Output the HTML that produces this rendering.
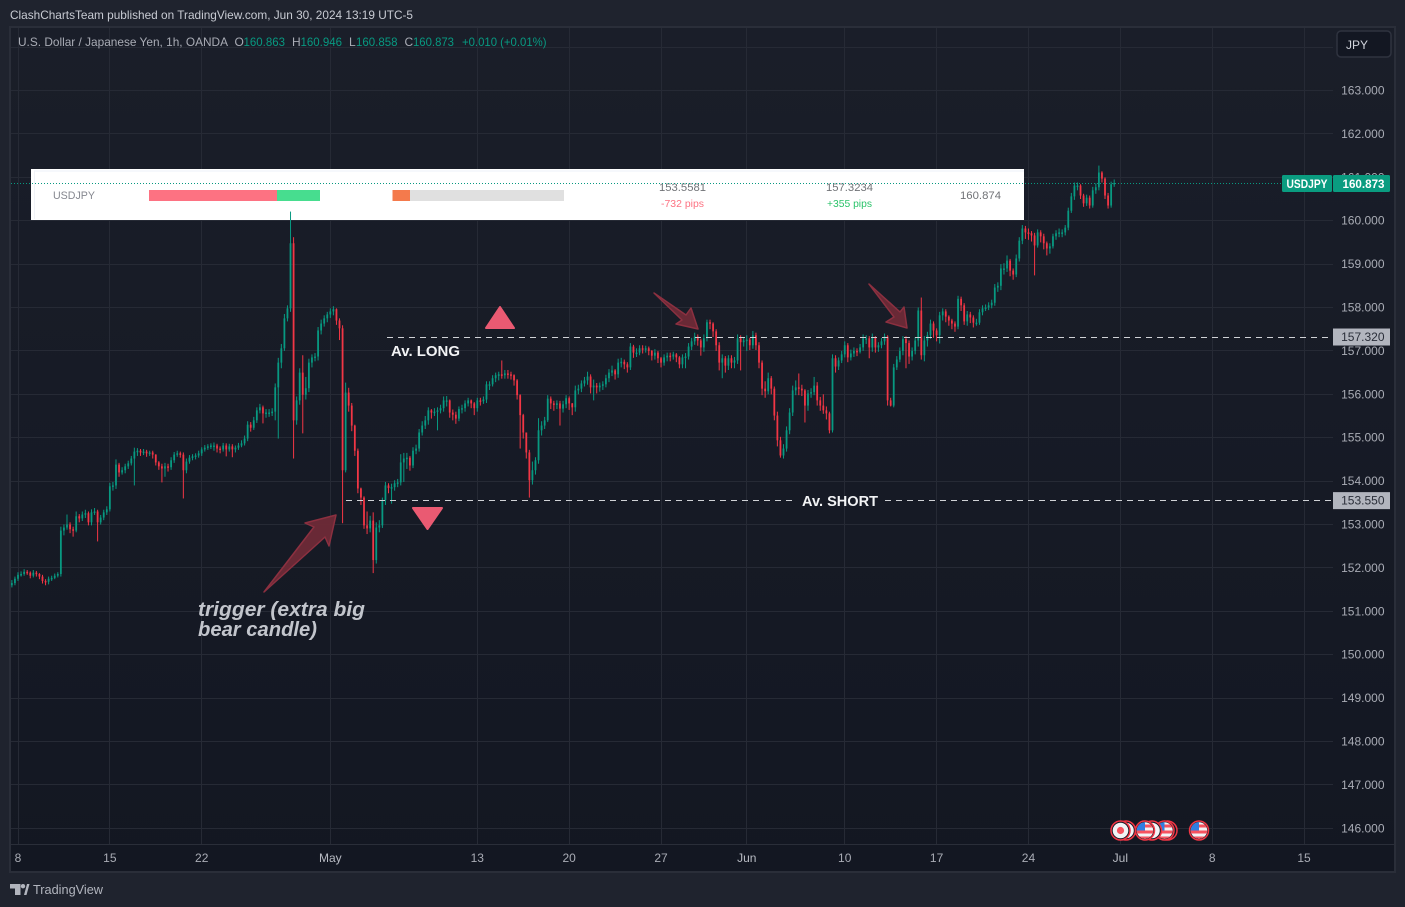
<!DOCTYPE html>
<html lang="en">
<head>
<meta charset="utf-8">
<title>USDJPY chart</title>
<style>
html,body{margin:0;padding:0;background:#1f232e;width:1405px;height:907px;overflow:hidden}
svg{display:block;font-family:"Liberation Sans",sans-serif}
</style>
</head>
<body>
<svg id="chart" xmlns="http://www.w3.org/2000/svg" width="1405" height="907" viewBox="0 0 1405 907">
  <defs>
    <linearGradient id="paneFill" x1="0" y1="0" x2="0" y2="1">
      <stop offset="0" stop-color="#1a1e29"/>
      <stop offset="1" stop-color="#131722"/>
    </linearGradient>
    <clipPath id="flagClip"><circle cx="0" cy="0" r="8.2"/></clipPath>
    <clipPath id="paneClip"><rect x="11" y="28" width="1383" height="816"/></clipPath>
  </defs>

  <rect x="0" y="0" width="1405" height="907" fill="#1f232e"/>
  <text x="10" y="19" font-size="12" fill="#c8cbd3" textLength="403" lengthAdjust="spacingAndGlyphs">ClashChartsTeam published on TradingView.com, Jun 30, 2024 13:19 UTC-5</text>

  <rect x="10" y="27" width="1385" height="845" fill="url(#paneFill)" stroke="#2a2e39" stroke-width="2"/>
  <line x1="11" y1="844.5" x2="1394" y2="844.5" stroke="#2a2e39"/>

  <g id="grid" clip-path="url(#paneClip)"></g>

  <g>
    <rect x="31" y="169" width="993" height="51" fill="#ffffff"/>
    <line x1="34" y1="171" x2="1024" y2="171" stroke="#eef2f8"/>
    <line x1="34.5" y1="171" x2="34.5" y2="219" stroke="#f0f3f8"/>
    <text x="53" y="199" font-size="11" fill="#85878f" textLength="42" lengthAdjust="spacingAndGlyphs">USDJPY</text>
    <rect x="149" y="190" width="128" height="11" fill="#fd7282"/>
    <rect x="277" y="190" width="43" height="11" fill="#47dd8f"/>
    <rect x="392.5" y="190" width="17.5" height="11" fill="#f47a4c"/>
    <rect x="410" y="190" width="154" height="11" fill="#e0e0e0"/>
    <text x="659" y="191" font-size="11" fill="#707276" textLength="47" lengthAdjust="spacingAndGlyphs">153.5581</text>
    <text x="661" y="207" font-size="10.5" fill="#fd7282" textLength="43" lengthAdjust="spacingAndGlyphs">-732 pips</text>
    <text x="826" y="191" font-size="11" fill="#707276" textLength="47" lengthAdjust="spacingAndGlyphs">157.3234</text>
    <text x="827" y="207" font-size="10.5" fill="#2bc36a" textLength="45" lengthAdjust="spacingAndGlyphs">+355 pips</text>
    <text x="960" y="199" font-size="11" fill="#707276" textLength="41" lengthAdjust="spacingAndGlyphs">160.874</text>
  </g>

  <g id="candles"></g>

  <line id="lastPriceLine" x1="11" x2="1282" stroke="#089981" stroke-width="1" stroke-dasharray="1 2"/>

  <line id="avgLongLine" x1="387" x2="1333" stroke="#d0d2d6" stroke-width="1" stroke-dasharray="6 5"/>
  <line id="avgShortLineA" x1="346" x2="795" stroke="#d0d2d6" stroke-width="1" stroke-dasharray="6 5"/>
  <line id="avgShortLineB" x1="885" x2="1333" stroke="#d0d2d6" stroke-width="1" stroke-dasharray="6 5"/>
  <text x="391" y="356" font-size="14.5" font-weight="700" fill="#f2f3f5" textLength="69" lengthAdjust="spacingAndGlyphs">Av. LONG</text>
  <text x="802" y="506" font-size="14.5" font-weight="700" fill="#f2f3f5" textLength="76" lengthAdjust="spacingAndGlyphs">Av. SHORT</text>

  <polygon points="500,307 514,328 486,328" fill="#ea5a72" stroke="#ea5a72" stroke-width="2" stroke-linejoin="round"/>
  <polygon points="413,508 442,508 427.5,529" fill="#ea5a72" stroke="#ea5a72" stroke-width="2" stroke-linejoin="round"/>

  <polygon points="264,592 314,527 305,523 336,515 329,546 325,537" fill="#6e2a37" fill-opacity="0.95" stroke="#8c3040" stroke-width="1.5" stroke-linejoin="round"/>
  <polygon points="654,293 686,315 691,308 698,329 676,324 682,320" fill="#6e2a37" fill-opacity="0.95" stroke="#8c3040" stroke-width="1.5" stroke-linejoin="round"/>
  <polygon points="869,284 900,312 904,307 907,328 886,322 894,317" fill="#6e2a37" fill-opacity="0.95" stroke="#8c3040" stroke-width="1.5" stroke-linejoin="round"/>

  <text x="198" y="616" font-size="20" font-weight="700" font-style="italic" fill="#c2c5cc" textLength="167" lengthAdjust="spacingAndGlyphs">trigger (extra big</text>
  <text x="198" y="636" font-size="20" font-weight="700" font-style="italic" fill="#c2c5cc" textLength="119" lengthAdjust="spacingAndGlyphs">bear candle)</text>

  <g font-size="12">
    <text x="18" y="46" fill="#a9acb5" textLength="210" lengthAdjust="spacingAndGlyphs">U.S. Dollar / Japanese Yen, 1h, OANDA</text>
    <text x="234.5" y="46" fill="#a9acb5">O</text>
    <text x="243.5" y="46" fill="#089981" textLength="41.5" lengthAdjust="spacingAndGlyphs">160.863</text>
    <text x="292" y="46" fill="#a9acb5">H</text>
    <text x="300.5" y="46" fill="#089981" textLength="41.5" lengthAdjust="spacingAndGlyphs">160.946</text>
    <text x="349" y="46" fill="#a9acb5">L</text>
    <text x="356" y="46" fill="#089981" textLength="41.5" lengthAdjust="spacingAndGlyphs">160.858</text>
    <text x="404.5" y="46" fill="#a9acb5">C</text>
    <text x="413" y="46" fill="#089981" textLength="41" lengthAdjust="spacingAndGlyphs">160.873</text>
    <text x="462" y="46" fill="#089981" textLength="84.5" lengthAdjust="spacingAndGlyphs">+0.010 (+0.01%)</text>
  </g>

  <g id="priceAxis"></g>
  <g id="timeAxis"></g>

  <g>
    <rect id="avgLongTag" x="1333" width="57" height="17" fill="#b2b5be"/>
    <text id="avgLongTagText" x="1384.5" text-anchor="end" font-size="12" fill="#2a2e39">157.320</text>
  </g>
  <g>
    <rect id="avgShortTag" x="1333" width="57" height="17" fill="#b2b5be"/>
    <text id="avgShortTagText" x="1384.5" text-anchor="end" font-size="12" fill="#2a2e39">153.550</text>
  </g>

  <g>
    <rect x="1282" y="175" width="50" height="17" rx="1.5" fill="#0a9c80"/>
    <text x="1307" y="188" text-anchor="middle" font-size="12" font-weight="700" fill="#ffffff" textLength="41" lengthAdjust="spacingAndGlyphs">USDJPY</text>
    <rect x="1333" y="175" width="57" height="17" rx="1.5" fill="#0a9c80"/>
    <text x="1384.5" y="188" text-anchor="end" font-size="12" font-weight="700" fill="#ffffff" textLength="42" lengthAdjust="spacingAndGlyphs">160.873</text>
  </g>

  <g>
    <rect x="1337" y="31" width="54" height="26" rx="4" fill="#131722" stroke="#2f333f" stroke-width="1.5"/>
    <text x="1346" y="49" font-size="12" fill="#d1d4dc">JPY</text>
  </g>

  <g id="events">
    <g transform="translate(1126,830.5)">
      <circle r="9.5" fill="#131722" stroke="#f23645" stroke-width="1.5"/>
      <circle r="7.8" fill="#f2f3f5"/>
    </g>
    <g transform="translate(1120.5,830.5)">
      <circle r="9.5" fill="#131722" stroke="#f23645" stroke-width="1.5"/>
      <circle r="7.8" fill="#f2f3f5"/>
      <circle r="3.6" fill="#f7525f"/>
    </g>
    <g transform="translate(1167.5,830.5)">
      <circle r="9.5" fill="#131722" stroke="#f23645" stroke-width="1.5"/>
    </g>
    <g transform="translate(1164.5,830.5)">
      <circle r="9.5" fill="#131722" stroke="#f23645" stroke-width="1.5"/>
      <g clip-path="url(#flagClip)">
        <rect x="-9" y="-9" width="18" height="18" fill="#f2f3f5"/>
        <rect x="-9" y="-6" width="18" height="3" fill="#f7525f"/>
        <rect x="-9" y="0" width="18" height="3" fill="#f7525f"/>
        <rect x="-9" y="6" width="18" height="3" fill="#f7525f"/>
        <rect x="-9" y="-9" width="9" height="9" fill="#2f7de1"/>
      </g>
    </g>
    <g transform="translate(1152,830.5)">
      <circle r="9.5" fill="#131722" stroke="#f23645" stroke-width="1.5"/>
      <circle r="7.8" fill="#f2f3f5"/>
    </g>
    <g transform="translate(1145,830.5)">
      <circle r="9.5" fill="#131722" stroke="#f23645" stroke-width="1.5"/>
      <g clip-path="url(#flagClip)">
        <rect x="-9" y="-9" width="18" height="18" fill="#f2f3f5"/>
        <rect x="-9" y="-6" width="18" height="3" fill="#f7525f"/>
        <rect x="-9" y="0" width="18" height="3" fill="#f7525f"/>
        <rect x="-9" y="6" width="18" height="3" fill="#f7525f"/>
        <rect x="-9" y="-9" width="9" height="9" fill="#2f7de1"/>
      </g>
    </g>
    <g transform="translate(1199,830.5)">
      <circle r="9.5" fill="#131722" stroke="#f23645" stroke-width="1.5"/>
      <g clip-path="url(#flagClip)">
        <rect x="-9" y="-9" width="18" height="18" fill="#f2f3f5"/>
        <rect x="-9" y="-6" width="18" height="3" fill="#f7525f"/>
        <rect x="-9" y="0" width="18" height="3" fill="#f7525f"/>
        <rect x="-9" y="6" width="18" height="3" fill="#f7525f"/>
        <rect x="-9" y="-9" width="9" height="9" fill="#2f7de1"/>
      </g>
    </g>
  </g>

  <g>
    <polygon points="10,884 20.5,884 20.5,895 15,895 15,888.5 10,888.5" fill="#b2b5be"/>
    <circle cx="23" cy="886.2" r="2.2" fill="#b2b5be"/>
    <polygon points="24,895 27,884 29.5,884 26.5,895" fill="#b2b5be"/>
    <text x="33" y="894" font-size="13" fill="#b2b5be" textLength="70" lengthAdjust="spacingAndGlyphs">TradingView</text>
  </g>
</svg>

<script>
const priceTicks = [146,147,148,149,150,151,152,153,154,155,156,157,158,159,160,161,162,163];
const extraGridPrices = [164];
const timeTickLabels = ["8","15","22","May","13","20","27","Jun","10","17","24","Jul","8","15"];
const timeTickBars = [0,30,60,102,150,180,210,238,270,300,330,360,390,420];
const firstBarIndex = -2;
const firstOpen = 151.60;
const lastPrice = 160.873;
const avgLongPrice = 157.320;
const avgShortPrice = 153.550;
const closes = [
151.65,151.75,151.84,151.86,151.91,151.89,151.82,151.89,151.86,151.80,
151.70,151.68,151.75,151.77,151.82,151.86,152.86,152.93,153.00,152.89,
152.86,153.19,153.14,153.23,153.26,153.05,153.28,153.30,153.05,153.16,
153.28,153.35,153.88,153.90,154.38,154.20,154.25,154.34,154.41,154.52,
154.68,154.70,154.66,154.68,154.64,154.66,154.61,154.43,154.34,154.29,
154.34,154.32,154.48,154.61,154.64,154.61,154.25,154.45,154.54,154.57,
154.59,154.64,154.73,154.77,154.80,154.82,154.82,154.75,154.73,154.82,
154.73,154.80,154.73,154.77,154.82,154.87,154.98,155.30,155.23,155.40,
155.63,155.70,155.56,155.58,155.58,155.60,156.16,156.73,157.06,157.75,
157.98,159.48,155.40,155.86,156.50,155.99,156.14,156.73,156.85,156.87,
157.47,157.63,157.75,157.84,157.91,157.96,157.70,157.52,154.25,156.04,
155.74,155.28,154.70,153.83,153.62,152.98,152.91,153.09,152.18,152.93,
152.98,153.56,153.90,153.84,153.86,153.95,153.97,154.43,154.52,154.54,
154.36,154.70,154.75,155.12,155.28,155.40,155.63,155.58,155.60,155.63,
155.68,155.86,155.86,155.58,155.53,155.44,155.66,155.68,155.79,155.86,
155.79,155.68,155.86,155.84,155.88,156.23,156.23,156.37,156.44,156.46,
156.44,156.48,156.46,156.44,156.32,155.98,155.52,155.12,154.66,154.02,
154.25,154.48,155.17,155.28,155.40,155.90,155.79,155.77,155.79,155.67,
155.77,155.91,155.79,155.70,156.09,156.13,156.25,156.32,156.41,156.16,
156.20,156.16,156.20,156.23,156.37,156.50,156.55,156.46,156.73,156.75,
156.69,156.62,157.10,156.96,156.96,157.06,157.04,157.06,157.00,156.89,
156.96,156.83,156.73,156.85,156.89,156.87,156.92,156.85,156.69,156.85,
156.87,157.10,157.22,157.33,157.24,157.08,157.29,157.66,157.63,157.45,
157.13,156.73,156.83,156.66,156.83,156.73,156.78,157.29,157.20,157.24,
157.26,157.13,157.36,157.13,156.73,156.13,156.07,156.37,156.13,155.51,
154.94,154.59,154.75,155.17,155.58,156.09,156.16,156.13,156.09,155.74,
156.02,156.05,156.20,155.86,155.74,155.63,155.56,155.17,156.83,156.64,
156.78,156.92,157.13,156.85,156.94,157.00,156.98,157.08,157.29,157.29,
157.08,157.31,157.08,157.13,157.22,157.33,155.86,155.74,156.62,156.80,
157.00,157.27,157.18,156.87,157.00,157.24,157.93,156.90,157.24,157.36,
157.63,157.47,157.36,157.82,157.91,157.79,157.70,157.63,157.56,158.20,
158.05,157.68,157.84,157.77,157.65,157.65,157.89,157.98,158.00,158.05,
158.11,158.46,158.50,158.90,158.90,159.08,158.85,158.76,159.13,159.54,
159.82,159.73,159.71,159.66,159.43,159.73,159.64,159.48,159.36,159.41,
159.64,159.71,159.73,159.73,159.84,160.23,160.56,160.81,160.81,160.58,
160.40,160.53,160.35,160.70,160.77,161.11,160.97,160.58,160.35,160.84,160.87
];
const highs = [
151.72,151.80,151.90,151.92,151.97,151.95,151.92,151.95,151.93,151.88,
151.84,151.74,151.80,151.82,151.87,151.90,152.95,153.00,153.23,153.05,
152.95,153.30,153.24,153.30,153.34,153.30,153.35,153.38,153.34,153.22,
153.34,153.42,153.96,153.98,154.50,154.42,154.32,154.40,154.47,154.58,
154.77,154.76,154.74,154.74,154.72,154.70,154.70,154.62,154.46,154.40,
154.42,154.40,154.55,154.67,154.70,154.68,154.66,154.52,154.60,154.62,
154.64,154.70,154.78,154.83,154.85,154.87,154.89,154.86,154.80,154.88,
154.87,154.86,154.85,154.82,154.88,154.94,155.05,155.38,155.36,155.48,
155.70,155.78,155.74,155.66,155.66,155.68,156.25,156.84,157.16,157.85,
158.05,160.21,159.62,155.95,156.60,156.90,156.40,156.82,156.92,156.95,
157.55,157.72,157.82,157.90,157.98,158.03,157.98,157.75,157.59,156.27,
156.15,155.80,155.30,154.75,153.85,153.65,153.30,153.20,153.28,153.05,
153.10,153.62,153.98,153.95,153.94,154.02,154.05,154.62,154.65,154.65,
154.58,154.78,154.84,155.20,155.38,155.50,155.70,155.66,155.68,155.70,
155.76,155.95,155.96,155.88,155.65,155.60,155.72,155.76,155.86,155.92,
155.88,155.82,155.92,155.92,155.95,156.30,156.30,156.44,156.50,156.52,
156.78,156.56,156.56,156.52,156.46,156.35,156.00,155.55,155.10,154.72,
154.45,154.55,155.45,155.38,155.48,155.98,155.95,155.85,155.86,155.85,
155.85,155.98,155.95,155.80,156.20,156.22,156.32,156.40,156.52,156.46,
156.34,156.26,156.27,156.30,156.45,156.58,156.66,156.58,156.82,156.84,
156.80,156.74,157.18,157.14,157.06,157.13,157.13,157.12,157.10,157.02,
157.04,157.00,156.86,156.92,156.96,156.96,156.98,156.95,156.88,156.92,
156.95,157.18,157.30,157.42,157.38,157.28,157.38,157.72,157.72,157.66,
157.50,157.20,156.92,156.88,156.90,156.90,156.86,157.38,157.36,157.32,
157.36,157.30,157.46,157.42,157.20,156.78,156.30,156.50,156.42,156.18,
155.60,155.02,154.85,155.26,155.68,156.20,156.32,156.48,156.22,156.12,
156.10,156.14,156.40,156.28,155.94,156.00,155.72,155.60,156.92,156.90,
156.85,157.00,157.22,157.18,157.03,157.08,157.06,157.16,157.38,157.36,
157.34,157.40,157.34,157.20,157.30,157.40,157.36,155.92,156.70,156.88,
157.08,157.34,157.34,157.24,157.08,157.32,158.00,158.23,157.34,157.44,
157.72,157.68,157.52,157.90,157.98,157.96,157.82,157.74,157.68,158.27,
158.25,158.10,157.92,157.90,157.82,157.74,157.96,158.05,158.07,158.12,
158.18,158.54,158.58,159.00,159.02,159.20,159.12,158.90,159.22,159.62,
159.90,159.88,159.82,159.76,159.72,159.80,159.78,159.70,159.52,159.48,
159.70,159.78,159.82,159.80,159.90,160.30,160.64,160.88,160.88,160.84,
160.62,160.60,160.58,160.78,160.86,161.27,161.14,161.00,160.64,160.90,160.95
];
const lows = [
151.55,151.60,151.70,151.80,151.82,151.84,151.76,151.78,151.80,151.74,
151.64,151.60,151.62,151.70,151.74,151.78,151.80,152.75,152.88,152.80,
152.72,152.82,153.05,153.08,153.15,152.98,152.98,153.22,152.61,153.00,
153.10,153.22,153.30,153.78,153.82,154.10,154.15,154.18,154.28,154.36,
153.90,154.58,154.58,154.60,154.56,154.58,154.52,154.36,154.26,153.97,
154.10,154.22,154.26,154.42,154.56,154.54,153.60,154.18,154.40,154.48,
154.50,154.54,154.58,154.68,154.72,154.74,154.70,154.66,154.64,154.68,
154.57,154.68,154.55,154.66,154.72,154.78,154.82,154.92,155.14,155.18,
155.34,155.56,155.33,155.46,155.48,155.50,155.40,154.98,156.60,157.00,
157.68,157.90,154.52,155.30,155.76,155.10,155.88,156.05,156.62,156.76,
156.78,157.38,157.56,157.66,157.76,157.82,157.60,157.25,153.03,154.20,
155.60,155.15,154.58,153.72,153.45,152.90,152.78,152.82,151.88,152.10,
152.82,152.92,153.45,153.72,153.48,153.78,153.86,153.90,153.98,154.28,
154.24,154.30,154.62,154.68,155.05,155.20,155.30,155.44,155.50,155.17,
155.56,155.60,155.72,155.46,155.40,155.32,155.38,155.56,155.60,155.72,
155.68,155.52,155.60,155.74,155.78,155.80,156.10,156.18,156.28,156.32,
156.36,156.36,156.36,156.34,156.20,155.88,154.75,154.98,154.52,153.62,
153.92,154.15,154.40,155.05,155.20,155.36,155.66,155.62,155.66,155.28,
155.58,155.68,155.64,155.52,155.60,156.00,156.05,156.18,156.22,156.02,
155.86,156.02,156.06,156.10,156.16,156.28,156.42,156.34,156.38,156.62,
156.58,156.50,156.56,156.84,156.86,156.90,156.94,156.96,156.90,156.78,
156.80,156.72,156.62,156.66,156.76,156.76,156.80,156.74,156.60,156.60,
156.60,156.80,157.02,157.14,157.12,156.89,156.98,157.22,157.50,157.32,
157.00,156.55,156.37,156.50,156.56,156.60,156.60,156.70,156.55,157.10,
157.00,157.02,157.05,157.02,156.60,155.98,155.92,156.00,156.00,155.40,
154.80,154.54,154.52,154.68,155.08,155.50,155.98,155.98,155.96,155.35,
155.62,155.92,155.98,155.74,155.62,155.55,155.42,155.10,155.12,156.50,
156.56,156.72,156.85,156.74,156.78,156.86,156.88,156.94,157.00,157.16,
156.83,156.98,156.96,156.98,157.06,157.14,155.74,155.72,155.70,156.56,
156.74,156.90,156.60,156.70,156.78,156.92,157.10,156.80,156.76,157.10,
157.28,157.30,157.22,157.17,157.70,157.66,157.58,157.50,157.44,157.50,
157.92,157.60,157.58,157.64,157.54,157.58,157.60,157.82,157.92,157.94,
157.98,158.04,158.36,158.40,158.76,158.82,158.72,158.64,158.70,159.06,
159.46,159.58,159.56,159.52,158.74,159.38,159.50,159.34,159.20,159.24,
159.36,159.56,159.62,159.62,159.66,159.78,160.18,160.48,160.70,160.50,
160.32,160.34,160.28,160.30,160.62,160.70,160.88,160.50,160.28,160.30,160.78
];

const SVG_NS = 'http://www.w3.org/2000/svg';
function yScale(price) { return 90.5 + (163 - price) * 43.4; }
function xScale(bar) { return 18 + bar * 3.062; }
function crisp(v) { return Math.floor(v) + 0.5; }

const gridGroup = document.getElementById('grid');
const priceGroup = document.getElementById('priceAxis');
const timeGroup = document.getElementById('timeAxis');
const candleGroup = document.getElementById('candles');

priceTicks.concat(extraGridPrices).forEach(function (p) {
  const line = document.createElementNS(SVG_NS, 'line');
  
  
  line.setAttribute('x1', 11);
  line.setAttribute('x2', 1333);
  line.setAttribute('y1', crisp(yScale(p)));
  line.setAttribute('y2', crisp(yScale(p)));
  line.setAttribute('stroke', '#262a35');
  gridGroup.appendChild(line);
});

timeTickBars.forEach(function (bar, k) {
  const x = xScale(bar);
  const line = document.createElementNS(SVG_NS, 'line');
  
  
  line.setAttribute('x1', crisp(x));
  line.setAttribute('x2', crisp(x));
  line.setAttribute('y1', 28);
  line.setAttribute('y2', 844);
  line.setAttribute('stroke', '#262a35');
  gridGroup.appendChild(line);

  const label = document.createElementNS(SVG_NS, 'text');
  
  
  label.setAttribute('x', x);
  label.setAttribute('y', 862);
  label.setAttribute('text-anchor', 'middle');
  label.setAttribute('font-size', '12');
  label.setAttribute('fill', /[A-Za-z]/.test(timeTickLabels[k]) ? '#b8bbc3' : '#a9acb5');
  label.textContent = timeTickLabels[k];
  timeGroup.appendChild(label);
});

priceTicks.forEach(function (p) {
  const label = document.createElementNS(SVG_NS, 'text');
  
  
  label.setAttribute('x', 1384.5);
  label.setAttribute('y', yScale(p) + 4);
  label.setAttribute('text-anchor', 'end');
  label.setAttribute('font-size', '12');
  label.setAttribute('fill', '#a9acb5');
  label.textContent = p.toFixed(3);
  priceGroup.appendChild(label);
});

closes.forEach(function (close, i) {
  const open = i === 0 ? firstOpen : closes[i - 1];
  const x = xScale(firstBarIndex + i);
  const color = close >= open ? '#089981' : '#f23645';
  const top = yScale(Math.max(open, close));
  const bottom = yScale(Math.min(open, close));

  const wick = document.createElementNS(SVG_NS, 'rect');
  
  
  wick.setAttribute('x', x - 0.5);
  wick.setAttribute('width', 1);
  wick.setAttribute('y', yScale(highs[i]));
  wick.setAttribute('height', Math.max(1, yScale(lows[i]) - yScale(highs[i])));
  wick.setAttribute('fill', color);
  candleGroup.appendChild(wick);

  const body = document.createElementNS(SVG_NS, 'rect');
  
  
  body.setAttribute('x', x - 0.9);
  body.setAttribute('width', 1.8);
  body.setAttribute('y', top);
  body.setAttribute('height', Math.max(1.5, bottom - top));
  body.setAttribute('fill', color);
  candleGroup.appendChild(body);
});

const lastLine = document.getElementById('lastPriceLine');
lastLine.setAttribute('y1', Math.round(yScale(lastPrice)) + 0.5);
lastLine.setAttribute('y2', Math.round(yScale(lastPrice)) + 0.5);

['avgLongLine'].forEach(function (id) {
  const el = document.getElementById(id);
  el.setAttribute('y1', crisp(yScale(avgLongPrice)));
  el.setAttribute('y2', crisp(yScale(avgLongPrice)));
});
['avgShortLineA', 'avgShortLineB'].forEach(function (id) {
  const el = document.getElementById(id);
  el.setAttribute('y1', crisp(yScale(avgShortPrice)));
  el.setAttribute('y2', crisp(yScale(avgShortPrice)));
});
document.getElementById('avgLongTag').setAttribute('y', yScale(avgLongPrice) - 8.5);
document.getElementById('avgLongTagText').setAttribute('y', yScale(avgLongPrice) + 4);
document.getElementById('avgShortTag').setAttribute('y', yScale(avgShortPrice) - 8.5);
document.getElementById('avgShortTagText').setAttribute('y', yScale(avgShortPrice) + 4);
</script>
</body>
</html>
